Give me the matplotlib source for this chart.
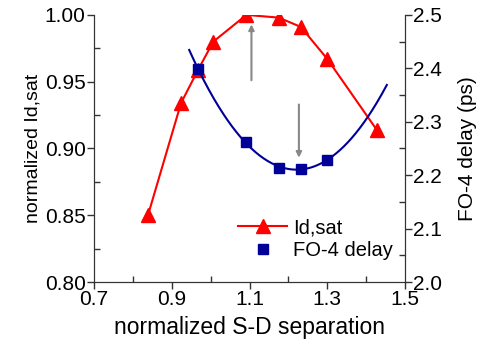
import numpy as np
import matplotlib
matplotlib.use("Agg")
import matplotlib.pyplot as plt
from matplotlib.ticker import MultipleLocator, FixedLocator

plt.rcParams['font.family'] = ['Liberation Sans', 'DejaVu Sans']

# Id,sat (left axis)
sd_id = [0.839, 0.924, 0.968, 1.007, 1.092, 1.175, 1.232, 1.300, 1.427]
id_sat = [0.850, 0.934, 0.959, 0.980, 1.000, 0.998, 0.991, 0.967, 0.914]

# FO-4 delay (right axis)
sd_fo4 = [0.968, 1.092, 1.175, 1.232, 1.300]
fo4 = [2.398, 2.262, 2.213, 2.212, 2.229]
fit_range = (0.945, 1.453)

x_ticks = [0.7, 0.9, 1.1, 1.3, 1.5]

fig = plt.figure(figsize=(4.84, 3.39), dpi=100)
ax = fig.add_axes([0.194, 0.168, 0.643, 0.788])
ax2 = ax.twinx()

l1, = ax.plot(sd_id, id_sat, color='#ff0000', lw=1.5, marker='^', ms=10,
              label='Id,sat')

# quadratic fit through the delay points
coef = np.polyfit(sd_fo4, fo4, 2)
xs = np.linspace(fit_range[0], fit_range[1], 200)
ax2.plot(xs, np.polyval(coef, xs), color='#000099', lw=1.5)
l2, = ax2.plot(sd_fo4, fo4, ls='none', color='#000099', marker='s', ms=6.5,
               label='FO-4 delay')

# arrows
ax.annotate('', xy=(1.105, 0.995), xytext=(1.105, 0.949),
            arrowprops=dict(arrowstyle='-|>', color='#888888', lw=1.5,
                            mutation_scale=8))
ax.annotate('', xy=(1.227, 0.891), xytext=(1.227, 0.935),
            arrowprops=dict(arrowstyle='-|>', color='#888888', lw=1.5,
                            mutation_scale=8))

ax.set_xlim(0.7, 1.5)
ax.set_ylim(0.80, 1.00)
ax2.set_ylim(2.0, 2.5)
ax.xaxis.set_major_locator(FixedLocator(x_ticks))
ax.xaxis.set_minor_locator(MultipleLocator(0.1))
ax.yaxis.set_major_locator(MultipleLocator(0.05))
ax.yaxis.set_minor_locator(MultipleLocator(0.025))
ax2.yaxis.set_major_locator(MultipleLocator(0.1))
ax2.yaxis.set_minor_locator(MultipleLocator(0.05))
ax.xaxis.set_major_formatter(plt.FuncFormatter(lambda v, p: f'{v:.1f}'))
ax.yaxis.set_major_formatter(plt.FuncFormatter(lambda v, p: f'{v:.2f}'))
ax2.yaxis.set_major_formatter(plt.FuncFormatter(lambda v, p: f'{v:.1f}'))

for a in (ax, ax2):
    a.tick_params(which='major', direction='out', length=5, width=1,
                  labelsize=15, pad=1, color='#333333')
    a.tick_params(which='minor', direction='in', length=4, width=1,
                  color='#333333')
    for s in a.spines.values():
        s.set_color('#333333')
    a.spines['top'].set_visible(False)
ax.tick_params(which='both', top=False, right=False)

ax.set_xlabel('normalized S-D separation', fontsize=16.5, labelpad=5)
ax.set_ylabel('normalized Id,sat', fontsize=14, labelpad=2)
ax2.set_ylabel('FO-4 delay (ps)', fontsize=15, labelpad=11)

ax.legend([l1, l2], ['Id,sat', 'FO-4 delay'], loc='upper left',
          bbox_to_anchor=(238 / 484, 1 - 218 / 339),
          bbox_transform=fig.transFigure, frameon=False, fontsize=14.5,
          handlelength=2.45, handletextpad=0.3, labelspacing=0.2,
          borderpad=0, borderaxespad=0)

fig.savefig('out.png', dpi=100)
